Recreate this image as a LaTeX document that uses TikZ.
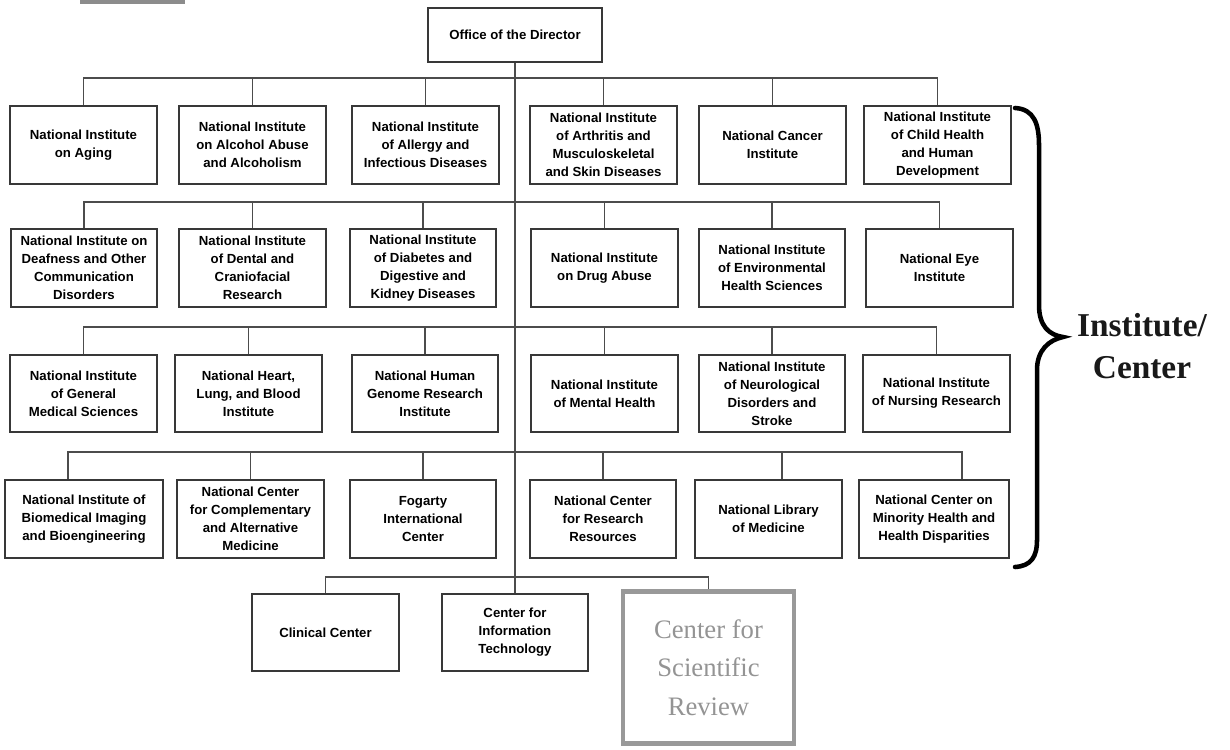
\documentclass[tikz,border=0pt]{standalone}
\usepackage{fontspec}
\newfontfamily\unitfont{Liberation Sans}
\newfontfamily\labelfont{Liberation Serif}
\tikzset{every picture/.style={line width=0.75pt}}
\tikzset{
  unit/.style={draw=black!78, line width=1.4pt, fill=white, minimum width=110pt, minimum height=58pt,
    inner sep=1.5pt, align=center, font=\unitfont\bfseries\fontsize{9.9}{13.5}\selectfont},
  link/.style={draw=black!70, line width=1.2pt},
  review/.style={draw=black!40, line width=3.4pt, fill=white, minimum width=128pt, minimum height=114pt,
    align=center, text=black!42, font=\labelfont\fontsize{20}{29}\selectfont},
}

\begin{document}
\begin{tikzpicture}[x=0.75pt,y=0.75pt,yscale=-1,xscale=1]
\useasboundingbox (0,0) rectangle (1230,749);

%Straight Lines [id:top sliver]
\draw [draw=black!45, line width=2.6pt] (80,2) -- (185,2) ;

% Text Node
\node [unit, minimum width=130pt, minimum height=41pt] (dir) at (515,35) {Office of the Director};

% Row 1
\node [unit] (aging) at (83.5,145) {National Institute\\on Aging};
\node [unit] (alcohol) at (252.5,145) {National Institute\\on Alcohol Abuse\\and Alcoholism};
\node [unit] (allergy) at (425.5,145) {National Institute\\of Allergy and\\Infectious Diseases};
\node [unit] (arthritis) at (603.5,145) {National Institute\\of Arthritis and\\Musculoskeletal\\and Skin Diseases};
\node [unit] (cancer) at (772.5,145) {National Cancer\\Institute};
\node [unit] (child) at (937.5,145) {National Institute\\of Child Health\\and Human\\Development};

% Row 2
\node [unit] (deafness) at (84,268) {National Institute on\\Deafness and Other\\Communication\\Disorders};
\node [unit] (dental) at (252.5,268) {National Institute\\of Dental and\\Craniofacial\\Research};
\node [unit] (diabetes) at (423,268) {National Institute\\of Diabetes and\\Digestive and\\Kidney Diseases};
\node [unit] (drug) at (604.5,268) {National Institute\\on Drug Abuse};
\node [unit] (environ) at (772,268) {National Institute\\of Environmental\\Health Sciences};
\node [unit] (eye) at (939.5,268) {National Eye\\Institute};

% Row 3
\node [unit] (general) at (83.5,393.5) {National Institute\\of General\\Medical Sciences};
\node [unit] (heart) at (248.5,393.5) {National Heart,\\Lung, and Blood\\Institute};
\node [unit] (genome) at (425,393.5) {National Human\\Genome Research\\Institute};
\node [unit] (mental) at (604.5,393.5) {National Institute\\of Mental Health};
\node [unit] (neuro) at (772,393.5) {National Institute\\of Neurological\\Disorders and\\Stroke};
\node [unit] (nursing) at (936.5,393.5) {National Institute\\of Nursing Research};

% Row 4
\node [unit, minimum width=118pt] (biomed) at (84,519) {National Institute of\\Biomedical Imaging\\and Bioengineering};
\node [unit] (comp) at (250.5,519) {National Center\\for Complementary\\and Alternative\\Medicine};
\node [unit] (fogarty) at (423,519) {Fogarty\\International\\Center};
\node [unit] (ncrr) at (603,519) {National Center\\for Research\\Resources};
\node [unit] (library) at (768.5,519) {National Library\\of Medicine};
\node [unit, minimum width=113pt] (minority) at (934,519) {National Center on\\Minority Health and\\Health Disparities};

% Row 5
\node [unit] (clinical) at (325.5,632.5) {Clinical Center};
\node [unit] (cit) at (515,632.5) {Center for\\Information\\Technology};
\node [review] (csr) at (708.5,667.5) {Center for\\Scientific\\Review};

% Bus coordinates
\coordinate (bus1) at (515,78);
\coordinate (bus2) at (515,202);
\coordinate (bus3) at (515,327);
\coordinate (bus4) at (515,452);
\coordinate (bus5) at (515,577);

%Straight Lines [id:trunk]
\draw [link] (dir.south) -- (cit.north) ;

%Straight Lines [id:row buses]
\draw [link] (aging.north) |- (bus1) -| (child.north) ;
\draw [link] (deafness.north) |- (bus2) -| (eye.north) ;
\draw [link] (general.north) |- (bus3) -| (nursing.north) ;
\draw [link] ([xshift=-12pt]biomed.north) |- (bus4) -| ([xshift=21pt]minority.north) ;
\draw [link] (clinical.north) |- (bus5) -| (csr.north) ;

%Straight Lines [id:drops]
\foreach \u in {alcohol,allergy,arthritis,cancer}
  \draw [link] (\u.north) -- (\u.north |- bus1) ;
\foreach \u in {dental,diabetes,drug,environ}
  \draw [link] (\u.north) -- (\u.north |- bus2) ;
\foreach \u in {heart,genome,mental,neuro}
  \draw [link] (\u.north) -- (\u.north |- bus3) ;
\foreach \u in {comp,fogarty,ncrr}
  \draw [link] (\u.north) -- (\u.north |- bus4) ;
\draw [link] ([xshift=10pt]library.north) -- ([xshift=10pt]library.north |- bus4) ;

%Curve Lines [id:brace]
\draw [line width=3.4pt, line cap=round] (1015,108) .. controls (1034,109) and (1039,124) .. (1039,145) -- (1039,305) .. controls (1039,326) and (1049,335) .. (1063,337) .. controls (1049,340) and (1037,350) .. (1037,370) -- (1037,540) .. controls (1037,557) and (1031,566) .. (1015,567) ;

% Text Node
\node [align=center, text=black!90, font=\labelfont\bfseries\fontsize{25}{31.5}\selectfont] (group) at (1142,346) {Institute/\\Center};

\end{tikzpicture}
\end{document}
